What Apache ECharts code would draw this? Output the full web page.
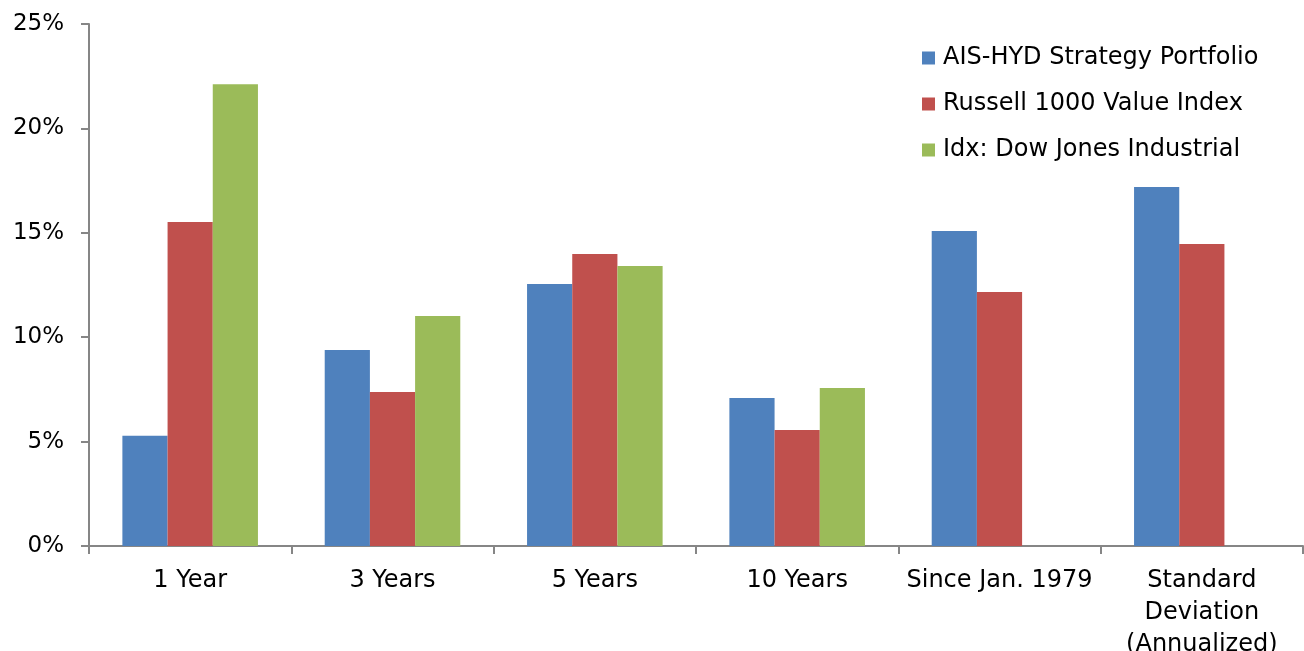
<!DOCTYPE html>
<html>
<head>
<meta charset="utf-8">
<script src="https://cdn.jsdelivr.net/npm/echarts@6/dist/echarts.min.js"></script>
<style>html,body{margin:0;padding:0;background:#fff}#c{width:1304px;height:651px}</style>
</head>
<body>
<div id="c"></div>
<script>
const categories = ['1 Year', '3 Years', '5 Years', '10 Years', 'Since Jan. 1979', 'Standard\nDeviation\n(Annualized)'];
const seriesNames = ['AIS-HYD Strategy Portfolio', 'Russell 1000 Value Index', 'Idx: Dow Jones Industrial'];
const aisHyd = [5.28, 9.39, 12.55, 7.09, 15.09, 17.19];
const russell = [15.52, 7.38, 13.98, 5.56, 12.16, 14.46];
const dowJones = [22.11, 11.02, 13.41, 7.57, null, null];
const colors = ['#4F81BD', '#C0504D', '#9BBB59'];
const yTicks = [0, 5, 10, 15, 20, 25];

const font = 'DejaVu Sans, Liberation Sans, Arial, sans-serif';
const chart = echarts.init(document.getElementById('c'));
chart.setOption({
  animation: false,
  color: colors,
  legend: {
    orient: 'vertical',
    left: 917,
    top: 41,
    itemWidth: 13,
    itemHeight: 13,
    itemGap: 22,
    icon: 'rect',
    textStyle: { fontFamily: font, fontSize: 24, color: '#000', padding: [0, 0, 0, 3] },
    data: seriesNames
  },
  grid: { left: 89, right: 1, top: 24, bottom: 105, containLabel: false, outerBoundsMode: 'none' },
  xAxis: {
    type: 'category',
    data: categories,
    axisLine: { lineStyle: { color: '#868686', width: 2 } },
    axisTick: { show: true, length: 8, lineStyle: { color: '#868686', width: 2 } },
    axisLabel: { fontFamily: font, fontSize: 24, color: '#000', margin: 19, lineHeight: 32, interval: 0 }
  },
  yAxis: {
    type: 'value',
    min: yTicks[0],
    max: yTicks[yTicks.length - 1],
    interval: 5,
    splitLine: { show: false },
    axisLine: { show: true, lineStyle: { color: '#868686', width: 2 } },
    axisTick: { show: true, inside: false, length: 8, lineStyle: { color: '#868686', width: 2 } },
    axisLabel: { fontFamily: font, fontSize: 23, color: '#000', margin: 25, formatter: v => v + '%' }
  },
  series: [
    { name: seriesNames[0], type: 'bar', data: aisHyd, barGap: '0%', barCategoryGap: '33%' },
    { name: seriesNames[1], type: 'bar', data: russell, barGap: '0%', barCategoryGap: '33%' },
    { name: seriesNames[2], type: 'bar', data: dowJones, barGap: '0%', barCategoryGap: '33%' }
  ]
});
</script>
</body>
</html>
